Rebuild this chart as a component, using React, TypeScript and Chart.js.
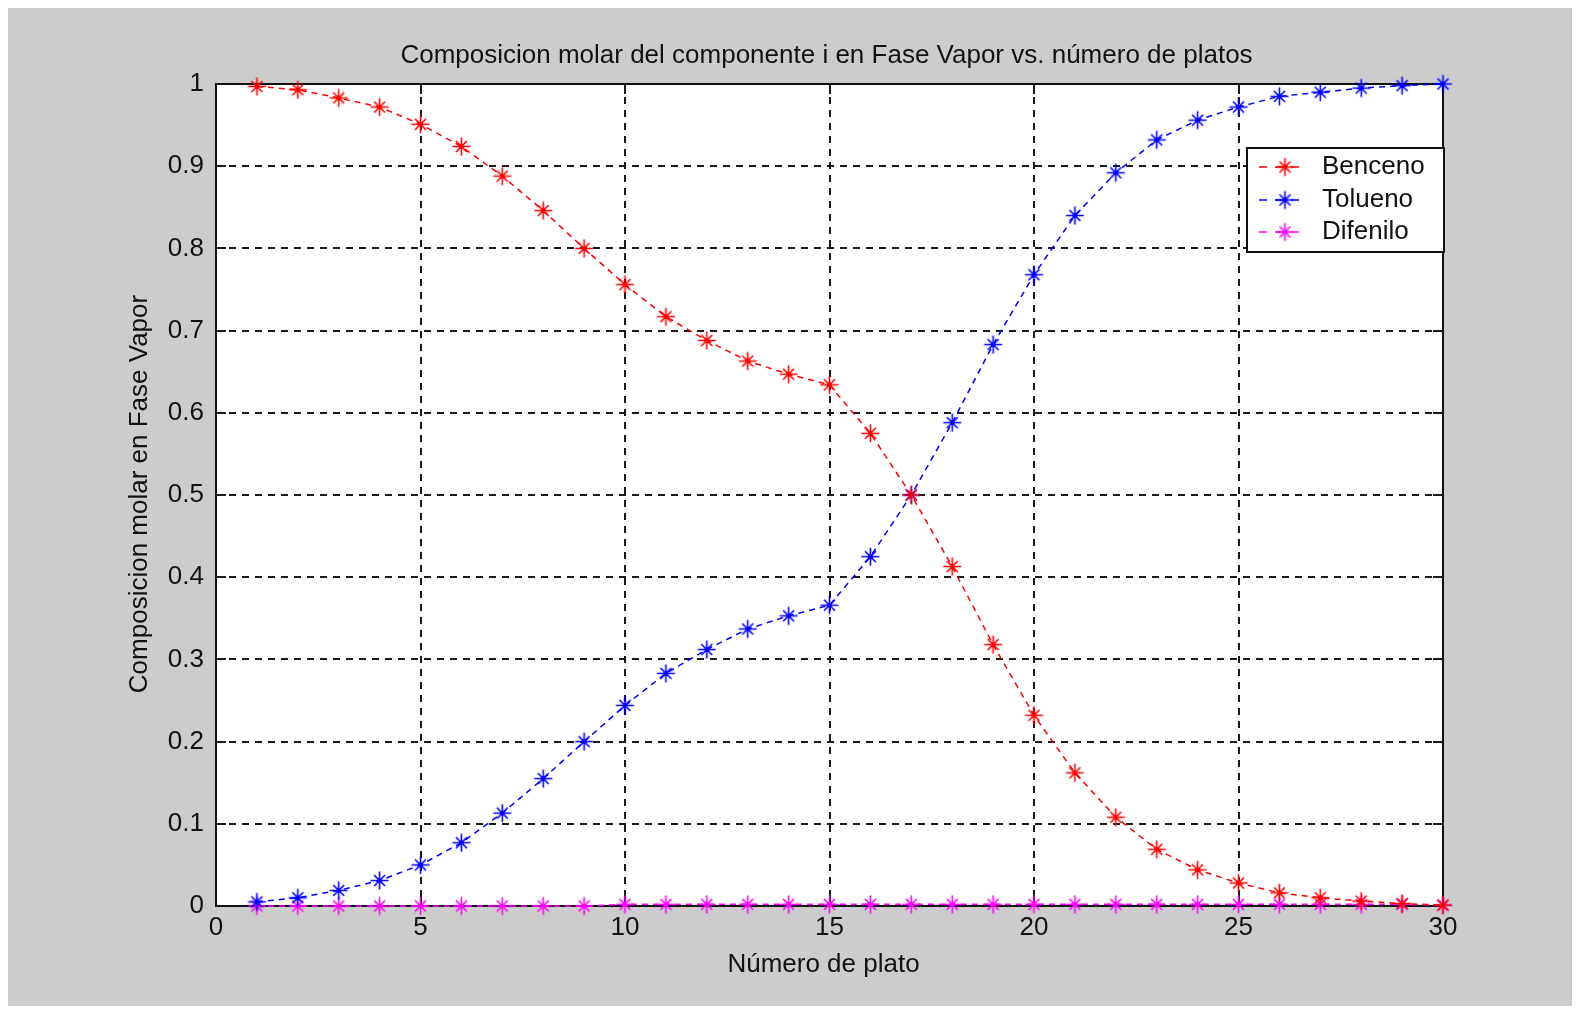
import { useEffect, useRef } from "react";
import { Chart, registerables } from "chart.js";

Chart.register(...registerables);

// Plate numbers and vapour-phase mole fractions per component
const platos = [1, 2, 3, 4, 5, 6, 7, 8, 9, 10, 11, 12, 13, 14, 15, 16, 17, 18, 19, 20, 21, 22, 23, 24, 25, 26, 27, 28, 29, 30];
const benceno = [0.997, 0.993, 0.983, 0.972, 0.951, 0.924, 0.888, 0.846, 0.8, 0.756, 0.717, 0.688, 0.663, 0.647, 0.634, 0.575, 0.5, 0.413, 0.318, 0.232, 0.162, 0.108, 0.069, 0.044, 0.028, 0.016, 0.01, 0.006, 0.003, 0.001];
const tolueno = [0.005, 0.01, 0.019, 0.031, 0.05, 0.077, 0.113, 0.155, 0.2, 0.244, 0.283, 0.312, 0.337, 0.353, 0.366, 0.425, 0.5, 0.588, 0.683, 0.768, 0.84, 0.892, 0.932, 0.956, 0.972, 0.985, 0.99, 0.995, 0.998, 1.0];
const difenilo = [0, 0, 0, 0, 0, 0, 0, 0, 0, 0.002, 0.002, 0.002, 0.002, 0.002, 0.002, 0.002, 0.002, 0.002, 0.002, 0.002, 0.002, 0.002, 0.002, 0.002, 0.002, 0.002, 0.002, 0.002, 0.002, 0.001];

const seriesNames = ["Benceno", "Tolueno", "Difenilo"];
const seriesColors = ["#ff0000", "#0000ff", "#ff00ff"];

const xTicks = [0, 5, 10, 15, 20, 25, 30];
const yTicks = [0, 0.1, 0.2, 0.3, 0.4, 0.5, 0.6, 0.7, 0.8, 0.9, 1];

const titleText = "Composicion molar del componente i en Fase Vapor vs. número de platos";
const xTitle = "Número de plato";
const yTitle = "Composicion molar en Fase Vapor";

const FONT = '"Liberation Sans", Arial, sans-serif';
const FONT_SIZE = 26;
const TEXT = "#111111";
const FIG_BG = "#cccccc";

const W = 1572;
const H = 998;

// Asterisk marker: long "+" arms, shorter "x" arms, dense centre
function makeStar(color: string): HTMLCanvasElement {
  const c = document.createElement("canvas");
  c.width = 21;
  c.height = 21;
  const g = c.getContext("2d")!;
  const m = 10.5;
  const r1 = 9;
  const r2 = 5.5;
  g.strokeStyle = color;
  g.lineWidth = 1.6;
  g.beginPath();
  g.moveTo(m - r1, m);
  g.lineTo(m + r1, m);
  g.moveTo(m, m - r1);
  g.lineTo(m, m + r1);
  g.moveTo(m - r2, m - r2);
  g.lineTo(m + r2, m + r2);
  g.moveTo(m - r2, m + r2);
  g.lineTo(m + r2, m - r2);
  g.stroke();
  g.fillStyle = color;
  g.beginPath();
  g.arc(m, m, 2.3, 0, Math.PI * 2);
  g.fill();
  return c;
}

const fmtTick = (v: number) => String(Number(v.toFixed(1)));

export default function App() {
  const ref = useRef<HTMLCanvasElement | null>(null);

  useEffect(() => {
    document.documentElement.style.overflow = "hidden";
    const canvas = ref.current!;
    const stars = seriesColors.map(makeStar);

    const axesPlugin = {
      id: "matlabAxes",
      beforeDraw(chart: any) {
        const { ctx, chartArea: ca } = chart;
        ctx.save();
        ctx.fillStyle = FIG_BG;
        ctx.fillRect(0, 0, chart.width, chart.height);
        ctx.fillStyle = "#ffffff";
        ctx.fillRect(ca.left, ca.top, ca.right - ca.left, ca.bottom - ca.top);
        ctx.restore();
      },
      beforeDatasetsDraw(chart: any) {
        const { ctx, chartArea: ca, scales } = chart;
        const xs = scales.x;
        const ys = scales.y;
        ctx.save();
        // dashed grid
        ctx.strokeStyle = "#1a1a1a";
        ctx.lineWidth = 2;
        ctx.setLineDash([7, 6]);
        ctx.beginPath();
        xTicks.slice(1, -1).forEach((v) => {
          const px = Math.round(xs.getPixelForValue(v));
          ctx.moveTo(px, ca.top);
          ctx.lineTo(px, ca.bottom);
        });
        yTicks.slice(1, -1).forEach((v) => {
          const py = Math.round(ys.getPixelForValue(v));
          ctx.moveTo(ca.left, py);
          ctx.lineTo(ca.right, py);
        });
        ctx.stroke();
        ctx.setLineDash([]);
        // inner tick marks on all sides
        const tl = 10;
        ctx.beginPath();
        xTicks.forEach((v) => {
          const px = Math.round(xs.getPixelForValue(v));
          ctx.moveTo(px, ca.bottom);
          ctx.lineTo(px, ca.bottom - tl);
          ctx.moveTo(px, ca.top);
          ctx.lineTo(px, ca.top + tl);
        });
        yTicks.forEach((v) => {
          const py = Math.round(ys.getPixelForValue(v));
          ctx.moveTo(ca.left, py);
          ctx.lineTo(ca.left + tl, py);
          ctx.moveTo(ca.right, py);
          ctx.lineTo(ca.right - tl, py);
        });
        ctx.stroke();
        // axes box
        ctx.strokeStyle = "#111111";
        ctx.lineWidth = 2;
        ctx.strokeRect(ca.left, ca.top, ca.right - ca.left, ca.bottom - ca.top);
        ctx.restore();
      },
      afterDraw(chart: any) {
        const { ctx, chartArea: ca } = chart;
        ctx.save();
        ctx.fillStyle = TEXT;
        ctx.font = `${FONT_SIZE}px ${FONT}`;
        ctx.textAlign = "center";
        ctx.textBaseline = "middle";
        const cx = (ca.left + ca.right) / 2;
        ctx.fillText(titleText, cx - 3, ca.top - 28);
        ctx.fillText(xTitle, cx - 6, ca.bottom + 59);
        ctx.save();
        ctx.translate(ca.left - 76, (ca.top + ca.bottom) / 2 - 1);
        ctx.rotate(-Math.PI / 2);
        ctx.fillText(yTitle, 0, 0);
        ctx.restore();

        // legend box
        const lw = 197;
        const lh = 104;
        const lx = ca.right + 1 - lw;
        const ly = ca.top + 64;
        ctx.fillStyle = "#ffffff";
        ctx.fillRect(lx, ly, lw, lh);
        ctx.strokeStyle = "#111111";
        ctx.lineWidth = 2;
        ctx.strokeRect(lx, ly, lw, lh);
        const rows = [19, 52, 84];
        seriesNames.forEach((name, i) => {
          const ry = ly + rows[i];
          ctx.strokeStyle = seriesColors[i];
          ctx.lineWidth = 1.5;
          ctx.setLineDash([8, 8]);
          ctx.beginPath();
          ctx.moveTo(lx + 12, ry);
          ctx.lineTo(lx + 53, ry);
          ctx.stroke();
          ctx.setLineDash([]);
          ctx.drawImage(stars[i], lx + 38 - 10.5, ry - 10.5);
          ctx.fillStyle = TEXT;
          ctx.textAlign = "left";
          ctx.fillText(name, lx + 75, ry);
        });
        ctx.restore();
      },
    };

    const chart = new Chart(canvas, {
      type: "line",
      data: {
        datasets: seriesNames.map((name, i) => ({
          label: name,
          data: platos.map((p, k) => ({ x: p, y: [benceno, tolueno, difenilo][i][k] })),
          borderColor: seriesColors[i],
          backgroundColor: seriesColors[i],
          borderWidth: 1.5,
          borderDash: [6, 5],
          pointStyle: stars[i],
          pointRadius: 9,
          tension: 0,
          fill: false,
          clip: false as any,
        })),
      },
      options: {
        responsive: false,
        animation: false,
        events: [],
        layout: { padding: { top: 76, right: W - 1435, left: 0, bottom: 0 } },
        plugins: {
          legend: { display: false },
          title: { display: false },
          tooltip: { enabled: false },
        },
        scales: {
          x: {
            type: "linear",
            min: 0,
            max: 30,
            afterBuildTicks: (s: any) => {
              s.ticks = xTicks.map((v) => ({ value: v }));
            },
            afterFit: (s: any) => {
              s.height = H - 898;
            },
            grid: { display: false, drawTicks: false },
            border: { display: false },
            ticks: {
              color: TEXT,
              font: { family: FONT, size: FONT_SIZE },
              padding: 6,
              maxRotation: 0,
              callback: (v: any) => fmtTick(Number(v)),
            },
          },
          y: {
            type: "linear",
            min: 0,
            max: 1,
            afterBuildTicks: (s: any) => {
              s.ticks = yTicks.map((v) => ({ value: v }));
            },
            afterFit: (s: any) => {
              s.width = 208;
            },
            grid: { display: false, drawTicks: false },
            border: { display: false },
            ticks: {
              color: TEXT,
              font: { family: FONT, size: FONT_SIZE },
              padding: 12,
              callback: (v: any) => fmtTick(Number(v)),
            },
          },
        },
      },
      plugins: [axesPlugin],
    });

    return () => chart.destroy();
  }, []);

  return (
    <div style={{ width: W, height: H }}>
      <canvas ref={ref} width={W} height={H} style={{ display: "block", width: W, height: H }} />
    </div>
  );
}
